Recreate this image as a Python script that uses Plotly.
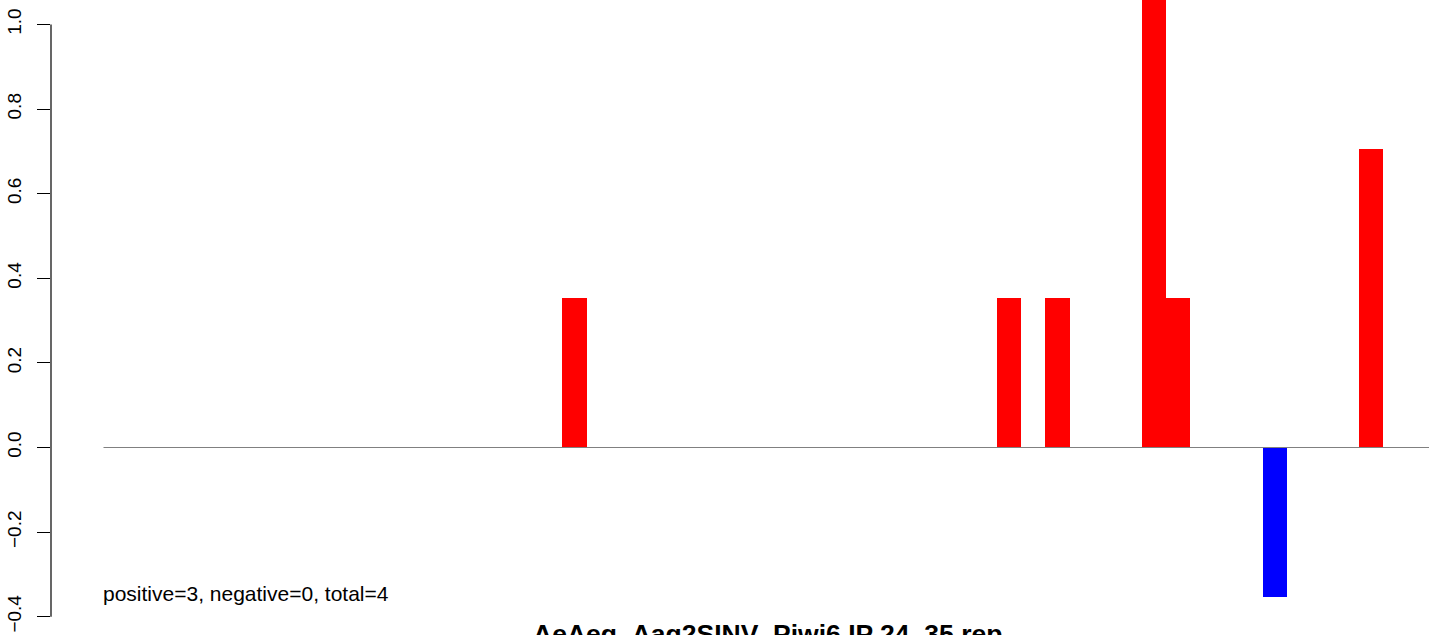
import plotly.graph_objects as go

# ---- data ----
bar_index = [19, 37, 39, 43, 44, 48, 52]
bar_value = [0.353, 0.353, 0.353, 1.059, 0.353, -0.353, 0.706]
n_slots = 55
y_tick_vals = [-0.4, -0.2, 0.0, 0.2, 0.4, 0.6, 0.8, 1.0]
y_tick_text = ["\u22120.4", "\u22120.2", "0.0", "0.2", "0.4", "0.6", "0.8", "1.0"]
summary_text = "positive=3, negative=0, total=4"
title_text = "AeAeg_Aag2SINV_Piwi6 IP 24_35 rep"

colors = ["#FF0000" if v >= 0 else "#0000FF" for v in bar_value]

FONT = "Liberation Sans, Arial, Helvetica, sans-serif"

fig = go.Figure()
fig.add_trace(go.Bar(
    x=[i + 0.5 for i in bar_index],
    y=bar_value,
    width=1.0,
    marker=dict(color=colors, line=dict(width=0)),
    showlegend=False,
    hoverinfo="skip",
))

W, H = 1429, 635
left_px = 51
slot_w = 24.15
slot0_px = 103.5
zero_px = 447.5
unit_px = 423.0

x_lo = (left_px - slot0_px) / slot_w
x_hi = (W - slot0_px) / slot_w
y_hi = zero_px / unit_px
y_lo = -(H - zero_px) / unit_px

fig.update_layout(
    template="none",
    width=W, height=H,
    margin=dict(l=left_px, r=0, t=0, b=0, pad=0),
    paper_bgcolor="white", plot_bgcolor="white",
    font=dict(family=FONT, color="black"),
    bargap=0,
    xaxis=dict(range=[x_lo, x_hi], showgrid=False, zeroline=False,
               showline=False, showticklabels=False, ticks="",
               automargin=False),
    yaxis=dict(range=[y_lo, y_hi], showgrid=False, zeroline=False,
               showline=False, ticks="outside", ticklen=13, tickwidth=1,
               tickcolor="black", tickvals=y_tick_vals, ticktext=y_tick_text,
               tickangle=-90, tickfont=dict(size=19, family=FONT, color="black"),
               ticklabelstandoff=8, automargin=False),
)

# y axis line (only spans tick range)
fig.add_shape(type="line", xref="paper", yref="y", x0=0, x1=0,
              y0=y_tick_vals[0], y1=y_tick_vals[-1],
              line=dict(color="black", width=1.2))
# zero baseline
fig.add_shape(type="line", xref="x", yref="y", x0=0, x1=n_slots + 5,
              y0=0, y1=0, line=dict(color="#808080", width=1.2), layer="above")

fig.add_annotation(x=-0.09, y=-0.3445, xref="x", yref="y", text=summary_text,
                   showarrow=False, xanchor="left", yanchor="middle",
                   font=dict(size=21, family=FONT, color="black"))
fig.add_annotation(x=n_slots / 2, y=-0.441, xref="x", yref="y",
                   text="<b>" + title_text + "</b>",
                   showarrow=False, xanchor="center", yanchor="middle",
                   font=dict(size=26.5, family=FONT, color="black"))

fig.write_html("out.html", config={"displayModeBar": False},
               post_script="document.body.style.margin='0';document.body.style.overflow='hidden';")
